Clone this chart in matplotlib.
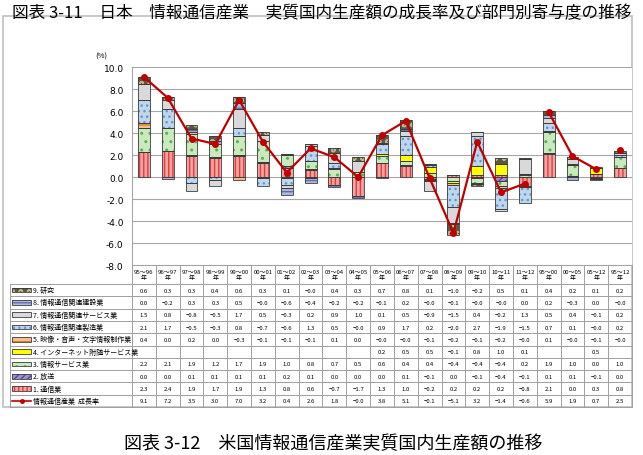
import numpy as np
import matplotlib.pyplot as plt
from matplotlib.patches import Rectangle
from matplotlib.lines import Line2D

plt.rcParams['font.family'] = ['Noto Sans CJK JP', 'DejaVu Sans']

periods = ['95～96', '96～97', '97～98', '98～99', '99～00', '00～01', '01～02',
           '02～03', '03～04', '04～05', '05～06', '06～07', '07～08', '08～09',
           '09～10', '10～11', '11～12', '95～00', '00～05', '05～12', '95～12']

# sector contributions (%), None = blank cell
tsushin = [2.3, 2.4, 1.9, 1.7, 1.9, 1.3, 0.8, 0.6, -0.7, -1.7, 1.3, 1.0, -0.2, 0.2, 0.2, 0.2, -0.8, 2.1, 0.0, 0.3, 0.8]
hoso = [0.0, 0.0, 0.1, 0.1, 0.1, 0.1, 0.2, 0.1, 0.0, 0.0, 0.0, 0.1, -0.1, 0.0, -0.1, -0.4, -0.1, 0.1, 0.1, -0.1, 0.0]
joho_service = [2.2, 2.1, 1.9, 1.2, 1.7, 1.9, 1.0, 0.8, 0.7, 0.5, 0.6, 0.4, 0.4, -0.4, -0.4, -0.4, 0.2, 1.9, 1.0, 0.0, 1.0]
internet = [None] * 10 + [0.2, 0.5, 0.5, -0.1, 0.8, 1.0, 0.1, None, None, 0.5, None]
eizo = [0.4, 0.0, 0.2, 0.0, -0.3, -0.1, -0.1, -0.1, 0.1, 0.0, -0.0, -0.0, -0.1, -0.2, -0.1, -0.2, -0.0, 0.1, -0.0, -0.1, -0.0]
seizo = [2.1, 1.7, -0.5, -0.3, 0.8, -0.7, -0.6, 1.3, 0.5, -0.0, 0.9, 1.7, 0.2, -2.0, 2.7, -1.9, -1.5, 0.7, 0.1, -0.0, 0.2]
kanren_service = [1.5, 0.8, -0.8, -0.5, 1.7, 0.5, -0.3, 0.2, 0.9, 1.0, 0.1, 0.5, -0.9, -1.5, 0.4, -0.2, 1.3, 0.5, 0.4, -0.1, 0.2]
kensetsu = [0.0, -0.2, 0.3, 0.3, 0.5, -0.0, -0.6, -0.4, -0.2, -0.2, -0.1, 0.2, -0.0, -0.1, -0.0, -0.0, 0.0, 0.2, -0.3, 0.0, -0.0]
kenkyu = [0.6, 0.3, 0.3, 0.4, 0.6, 0.3, 0.1, -0.0, 0.4, 0.3, 0.7, 0.8, 0.1, -1.0, -0.2, 0.5, 0.1, 0.4, 0.2, 0.1, 0.2]
growth = [9.1, 7.2, 3.5, 3.0, 7.0, 3.2, 0.4, 2.6, 1.8, -0.0, 3.8, 5.1, -0.1, -5.1, 3.2, -1.4, -0.6, 5.9, 1.9, 0.7, 2.5]

series = [
    ('1. 通信業', tsushin, '#f4a3a3', '#e03c3c', '||||'),
    ('2. 放送', hoso, '#9d8fd0', '#5b4a9e', '/////'),
    ('3. 情報サービス業', joho_service, '#c9eabc', '#5cae5c', '..'),
    ('4. インターネット附随サービス業', internet, '#ffff00', '#ffff00', None),
    ('5. 映像・音声・文字情報制作業', eizo, '#f8c08c', '#e07b20', '---'),
    ('6. 情報通信関連製造業', seizo, '#bdd7ee', '#6d93c4', '...'),
    ('7. 情報通信関連サービス業', kanren_service, '#d9d9d9', '#d9d9d9', None),
    ('8. 情報通信関連建設業', kensetsu, '#aeb8e0', '#6070b0', '---'),
    ('9. 研究', kenkyu, '#5b5a40', '#b8b890', 'oo'),
]

W, H = 643, 456
fig = plt.figure(figsize=(W / 100, H / 100), dpi=100)

x_left, x_right = 132, 632
y_top, y_bot = 68, 266
ax = fig.add_axes([x_left / W, 1 - y_bot / H, (x_right - x_left) / W, (y_bot - y_top) / H])

n = len(periods)
x = np.arange(n)
bw = 0.5
pos_base = np.zeros(n)
neg_base = np.zeros(n)
for name, vals, fc, hc, hatch in series:
    v = np.array([0.0 if a is None else a for a in vals])
    base = np.where(v >= 0, pos_base, neg_base)
    ax.bar(x, v, bw, bottom=base, color=fc, edgecolor=hc, linewidth=0, hatch=hatch, zorder=2)
    ax.bar(x, v, bw, bottom=base, fill=False, edgecolor='#3a3a3a', linewidth=0.6, zorder=3)
    pos_base = pos_base + np.where(v >= 0, v, 0)
    neg_base = neg_base + np.where(v < 0, v, 0)

g = np.array(growth, dtype=float)
for seg in (slice(0, 17), slice(17, 20), slice(20, 21)):
    ax.plot(x[seg], g[seg], color='#c00000', lw=1.6, marker='o', ms=4, zorder=5)

ax.set_xlim(-0.5, n - 0.5)
ax.set_ylim(-8, 10)
ax.set_yticks(np.arange(-8, 10.1, 2))
ax.set_yticklabels([f'{t:.1f}' for t in np.arange(-8, 10.1, 2)], fontsize=6.5, family='DejaVu Sans')
ax.tick_params(axis='y', length=0, pad=6)
ax.set_xticks([])
ax.grid(axis='y', color='#a6a6a6', lw=0.8, zorder=0)
for s in ['top', 'right', 'bottom']:
    ax.spines[s].set_visible(False)
ax.spines['left'].set_color('#a6a6a6')

# overlay in pixel coordinates for frame, titles and table
ov = fig.add_axes([0, 0, 1, 1], zorder=-1)
ov.set_xlim(0, W)
ov.set_ylim(H, 0)
ov.axis('off')
ov2 = fig.add_axes([0, 0, 1, 1])
ov2.set_xlim(0, W)
ov2.set_ylim(H, 0)
ov2.axis('off')
ov2.patch.set_alpha(0)

ov.add_patch(Rectangle((3, 17), 629, 391, fill=False, edgecolor='#bfbfbf', lw=1.2))
ov2.text(W / 2, 14, '図表 3-11　日本　情報通信産業　実質国内生産額の成長率及び部門別寄与度の推移',
         ha='center', va='center', fontsize=12)
ov2.text(333, 444, '図表 3-12　米国情報通信産業実質国内生産額の推移', ha='center', va='center', fontsize=13)
ov2.text(101, 57, '(%)', ha='center', va='center', fontsize=5.5)

# table
col_w = (x_right - x_left) / n
head_top, head_bot = 266, 285
row_h = (408 - head_bot) / 10
tcol = '#a0a0a0'
ov2.plot([x_left, x_right], [head_top, head_top], color=tcol, lw=0.7)
for i in range(n + 1):
    xx = x_left + i * col_w
    ov2.plot([xx, xx], [head_top, 408], color=tcol, lw=0.7)
ov2.plot([10, 10], [head_bot, 408], color=tcol, lw=0.7)
for r in range(11):
    yy = head_bot + r * row_h
    ov2.plot([10, x_right], [yy, yy], color=tcol, lw=0.7)
for i, p in enumerate(periods):
    ov2.text(x_left + (i + 0.5) * col_w, (head_top + head_bot) / 2, p + '\n年',
             ha='center', va='center', fontsize=4.3, linespacing=1.3)

rows = [s for s in series[::-1]]
for r, (name, vals, fc, hc, hatch) in enumerate(rows):
    yc = head_bot + (r + 0.5) * row_h
    ov2.add_patch(Rectangle((12, yc - 2.3), 19, 4.6, facecolor=fc, edgecolor=hc, lw=0, hatch=hatch))
    ov2.add_patch(Rectangle((12, yc - 2.3), 19, 4.6, fill=False, edgecolor='#3a3a3a', lw=0.6))
    ov2.text(33, yc, name, ha='left', va='center', fontsize=5)
    for i, v in enumerate(vals):
        if v is None:
            continue
        ov2.text(x_left + (i + 0.5) * col_w, yc, f'{v:.1f}'.replace('-', '−'),
                 ha='center', va='center', fontsize=4.3)
yc = head_bot + 9.5 * row_h
ov2.add_line(Line2D([12, 31], [yc, yc], color='#c00000', lw=1.2))
ov2.plot(21.5, yc, 'o', color='#c00000', ms=2.5)
ov2.text(33, yc, '情報通信産業  成長率', ha='left', va='center', fontsize=5)
for i, v in enumerate(growth):
    ov2.text(x_left + (i + 0.5) * col_w, yc, f'{v:.1f}'.replace('-', '−'),
             ha='center', va='center', fontsize=4.3)

fig.savefig('out.png', dpi=100)
